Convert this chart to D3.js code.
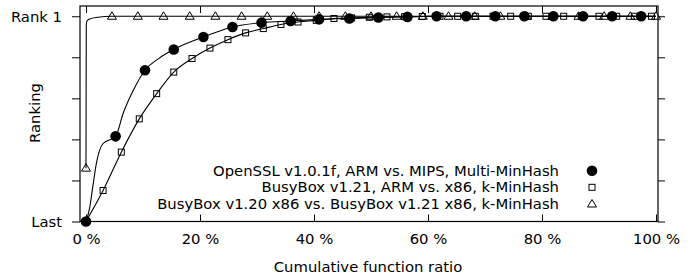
<!DOCTYPE html>
<html>
<head>
<meta charset="utf-8">
<script src="https://cdn.jsdelivr.net/npm/d3@7"></script>
<style>
  body { margin: 0; background: #fff; }
  text { font-family: "DejaVu Sans", sans-serif; fill: #000; }
</style>
</head>
<body>
<svg class="chart" width="699" height="278"></svg>
<script>
// data --------------------------------------------------------------
// x in %, y : 0 = Last, 1 = Rank 1

// OpenSSL v1.0.1f, ARM vs. MIPS, Multi-MinHash (filled circles)
let opensslPtsX = [0, 5.2, 10.35, 15.4, 20.6, 25.7, 30.8, 35.9, 40.9, 46.2, 51.3, 56.4, 61.5, 66.7, 71.8, 76.9, 82.0, 87.2, 92.3, 97.4];
let opensslPtsY = [0, 0.415, 0.737, 0.838, 0.899, 0.948, 0.969, 0.977, 0.985, 0.989, 0.994, 0.997, 1, 1, 1, 1, 1, 1, 1, 1];
let opensslLineX = [0, 0.6, 1.2, 1.8, 3.0, 5.2, 6.5, 8.3, 10.35, 12.8, 15.4, 20.6, 25.7, 30.8, 35.9, 40.9, 46.2, 51.3, 56.4, 61.5, 100];
let opensslLineY = [0, 0.06, 0.17, 0.28, 0.38, 0.415, 0.525, 0.639, 0.737, 0.795, 0.838, 0.899, 0.948, 0.969, 0.977, 0.985, 0.989, 0.994, 0.997, 1, 1];

// BusyBox v1.21, ARM vs. x86, k-MinHash (open squares)
let bbArmX = [0, 3.0, 6.2, 9.35, 12.4, 15.4, 18.6, 21.75, 24.9, 28.0, 31.1, 34.2, 37.2, 40.4, 43.5, 46.6, 49.7, 52.8, 55.9, 59.0, 62.1, 65.2, 68.3, 71.4, 74.5, 77.6, 80.7, 83.8, 86.9, 90.0, 93.1, 96.2, 99.2];
let bbArmY = [0, 0.151, 0.338, 0.50, 0.623, 0.728, 0.794, 0.845, 0.886, 0.919, 0.94, 0.96, 0.972, 0.98, 0.989, 0.992, 0.995, 0.997, 0.998, 0.999, 1, 1, 1, 1, 1, 1, 1, 1, 1, 1, 1, 1, 1];

// BusyBox v1.20 x86 vs. BusyBox v1.21 x86, k-MinHash (open triangles)
let bbVerPtsX = [0, 4.55, 9.1, 13.6, 18.2, 22.7, 27.3, 31.8, 36.4, 40.9, 45.5, 50, 54.5, 59.1, 63.6, 68.2, 72.7, 77.3, 81.8, 86.4, 90.9, 95.5, 100];
let bbVerPtsY = [0.26, 1, 1, 1, 1, 1, 1, 1, 1, 1, 1, 1, 1, 1, 1, 1, 1, 1, 1, 1, 1, 1, 1];
let bbVerLineX = [0, 0.05, 0.2, 0.65, 2.1, 4.55, 100];
let bbVerLineY = [0.26, 0.96, 0.978, 0.987, 0.995, 1, 1];

let legendLabels = [
  "OpenSSL v1.0.1f, ARM vs. MIPS, Multi-MinHash",
  "BusyBox v1.21, ARM vs. x86, k-MinHash",
  "BusyBox v1.20 x86 vs. BusyBox v1.21 x86, k-MinHash"
];
let xTicks = [0, 20, 40, 60, 80, 100];
let yTicks = [0, 0.2, 0.4, 0.6, 0.8, 1];
let yTickLabels = ["Last", "", "", "", "", "Rank 1"];

//-------------------------------------------------------------------

let svg = d3.select(".chart");
let mLeft = 80, mRight = 658, mTop = 6, mBottom = 221.5;
let fs = 14.8;

let x = d3.scaleLinear().domain([-1.05, 100.35]).range([mLeft, mRight]);
let y = d3.scaleLinear().domain([0, 1.05]).range([mBottom, mTop]);

let zip = (xs, ys) => xs.map((v, i) => [v, ys[i]]);

// axes
svg.append("g")
  .attr("transform", "translate(0," + mBottom + ")")
  .call(d3.axisBottom(x).tickValues(xTicks).tickSizeInner(-7).tickSizeOuter(0)
    .tickPadding(12).tickFormat(d => d + " %"));
svg.append("g")
  .attr("transform", "translate(0," + mTop + ")")
  .call(d3.axisTop(x).tickValues(xTicks).tickSizeInner(-7).tickSizeOuter(0).tickFormat(""));
svg.append("g")
  .attr("transform", "translate(" + mLeft + ",0)")
  .call(d3.axisLeft(y).tickValues(yTicks).tickSizeInner(8).tickSizeOuter(0)
    .tickPadding(10).tickFormat((d, i) => yTickLabels[i]));
svg.append("g")
  .attr("transform", "translate(" + mRight + ",0)")
  .call(d3.axisRight(y).tickValues(yTicks).tickSizeInner(7).tickSizeOuter(0).tickFormat(""));

svg.selectAll(".domain").remove();
svg.selectAll(".tick line").attr("stroke", "#000").attr("stroke-width", 1);
svg.selectAll(".tick text").style("font-size", fs + "px").style("font-family", "DejaVu Sans");

svg.append("rect")
  .attr("x", mLeft).attr("y", mTop)
  .attr("width", mRight - mLeft).attr("height", mBottom - mTop)
  .attr("fill", "none").attr("stroke", "#000").attr("stroke-width", 1.2);

// axis titles
svg.append("text")
  .attr("x", 368).attr("y", 272)
  .attr("text-anchor", "middle")
  .style("font-size", fs + "px")
  .text("Cumulative function ratio");
svg.append("text")
  .attr("transform", "translate(40,113) rotate(-90)")
  .attr("text-anchor", "middle")
  .style("font-size", fs + "px")
  .text("Ranking");

// lines
let line = d3.line().x(d => x(d[0])).y(d => y(d[1])).curve(d3.curveMonotoneX);

[zip(opensslLineX, opensslLineY), zip(bbArmX, bbArmY), zip(bbVerLineX, bbVerLineY)].forEach(function(d) {
  svg.append("path")
    .attr("d", line(d))
    .attr("fill", "none")
    .attr("stroke", "#000")
    .attr("stroke-width", 1.1);
});

// markers
let drawCircle = (g, cx, cy) => g.append("circle").attr("cx", cx).attr("cy", cy).attr("r", 5.3).attr("fill", "#000");
let drawSquare = (g, cx, cy) => g.append("rect").attr("x", cx - 3).attr("y", cy - 3).attr("width", 6).attr("height", 6)
  .attr("fill", "none").attr("stroke", "#000").attr("stroke-width", 1);
let drawTri = (g, cx, cy) => g.append("path")
  .attr("d", "M" + (cx - 4.5) + "," + (cy + 3) + "L" + (cx + 4.5) + "," + (cy + 3) + "L" + cx + "," + (cy - 4.5) + "Z")
  .attr("fill", "none").attr("stroke", "#000").attr("stroke-width", 1);

let marks = svg.append("g");
zip(opensslPtsX, opensslPtsY).forEach(d => drawCircle(marks, x(d[0]), y(d[1])));
zip(bbArmX, bbArmY).forEach(d => drawSquare(marks, x(d[0]), y(d[1])));
zip(bbVerPtsX, bbVerPtsY).forEach(d => drawTri(marks, x(d[0]), y(d[1])));

// legend
let legendY = [170.7, 187.3, 204];
let drawers = [drawCircle, drawSquare, drawTri];
legendLabels.forEach(function(lab, i) {
  svg.append("text")
    .attr("x", 559).attr("y", legendY[i])
    .attr("dy", "0.35em")
    .attr("text-anchor", "end")
    .style("font-size", fs + "px")
    .text(lab);
  drawers[i](svg, 592, legendY[i]);
});
</script>
</body>
</html>
